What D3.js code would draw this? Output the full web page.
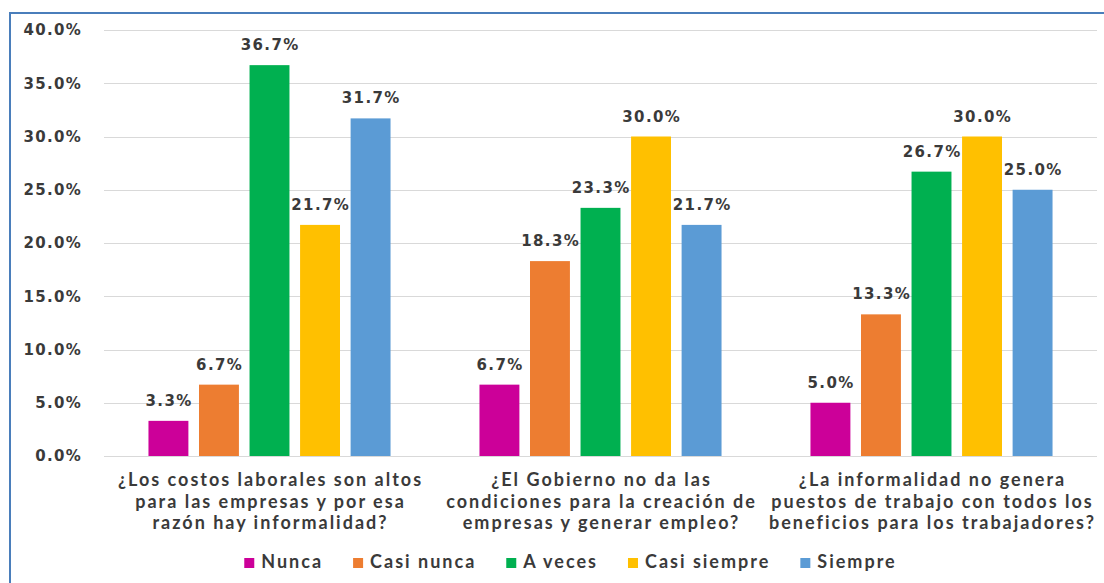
<!DOCTYPE html>
<html><head><meta charset="utf-8">
<script src="https://cdn.jsdelivr.net/npm/d3@7"></script>
<style>body{margin:0;background:#fff}</style>
</head><body><svg id="c" width="1104" height="583"></svg>
<script>
const categories = [
  "¿Los costos laborales son altos|para las empresas y por esa|razón hay informalidad?",
  "¿El Gobierno no da las|condiciones para la creación de|empresas y generar empleo?",
  "¿La informalidad no genera|puestos de trabajo con todos los|beneficios para los trabajadores?"
];
const series = ["Nunca", "Casi nunca", "A veces", "Casi siempre", "Siempre"];
const colors = ["#CC0099", "#ED7D31", "#00B050", "#FFC000", "#5B9BD5"];
const nunca = [3.3, 6.7, 5.0];
const casiNunca = [6.7, 18.3, 13.3];
const aVeces = [36.7, 23.3, 26.7];
const casiSiempre = [21.7, 30.0, 30.0];
const siempre = [31.7, 21.7, 25.0];
const yTicks = [0, 5, 10, 15, 20, 25, 30, 35, 40];
const valuesBySeries = [nunca, casiNunca, aVeces, casiSiempre, siempre];

(function() {
const svg = d3.select("#c");
const W = 1104, H = 583;
const pL = 104, pR = 1097, pT = 30, pB = 456;
const txt = "#3a3a3a";

// border
svg.append("line").attr("x1", 10).attr("x2", 10).attr("y1", 12).attr("y2", H).attr("stroke", "#4A7EBB").attr("stroke-width", 2);
svg.append("line").attr("x1", 9).attr("x2", W).attr("y1", 13).attr("y2", 13).attr("stroke", "#4A7EBB").attr("stroke-width", 1.8);

const y = d3.scaleLinear().domain([0, 40]).range([pB, pT]);
const x0 = d3.scaleBand().domain(d3.range(categories.length)).range([pL, pR]).paddingInner(0).paddingOuter(0);
const x1 = d3.scaleBand().domain(series).range([0, x0.bandwidth()]).paddingInner(0.21).paddingOuter(0.88);

// gridlines
svg.append("g").selectAll("line").data(yTicks).join("line")
  .attr("x1", pL).attr("x2", pR)
  .attr("y1", d => Math.round(y(d)) + 0.5).attr("y2", d => Math.round(y(d)) + 0.5)
  .attr("stroke", "#D9D9D9").attr("stroke-width", 1.2);

// y axis labels
const yAxis = d3.axisLeft(y).tickValues(yTicks).tickSize(0).tickPadding(0).tickFormat(d => d.toFixed(1) + "%");
const gy = svg.append("g").attr("transform", "translate(82,0)").call(yAxis);
gy.select(".domain").remove();
gy.selectAll("text").attr("font-family", "DejaVu Sans").attr("font-weight", "bold").attr("font-size", 15)
  .attr("letter-spacing", 1.3).attr("fill", txt);

// bars
const data = [];
series.forEach((s, si) => valuesBySeries[si].forEach((v, ci) => data.push({s, si, ci, v})));
svg.append("g").selectAll("rect").data(data).join("rect")
  .attr("x", d => x0(d.ci) + x1(d.s))
  .attr("width", x1.bandwidth())
  .attr("y", d => y(d.v))
  .attr("height", d => y(0) - y(d.v))
  .attr("fill", d => colors[d.si]);

// data labels
svg.append("g").selectAll("text").data(data).join("text")
  .attr("x", d => x0(d.ci) + x1(d.s) + x1.bandwidth() / 2 + 0.7)
  .attr("y", d => y(d.v) - 15)
  .attr("text-anchor", "middle")
  .attr("font-family", "DejaVu Sans").attr("font-weight", "bold").attr("font-size", 15)
  .attr("letter-spacing", 1.4)
  .attr("fill", txt)
  .text(d => d.v.toFixed(1) + "%");

// category labels
const cat = svg.append("g").selectAll("text").data(categories).join("text")
  .attr("text-anchor", "middle")
  .attr("font-family", "Lato").attr("font-weight", "bold").attr("font-size", 18)
  .attr("letter-spacing", 2)
  .attr("fill", txt);
cat.each(function(d, i) {
  const t = d3.select(this);
  d.split("|").forEach((line, li) => {
    t.append("tspan").attr("x", x0(i) + x0.bandwidth() / 2 + 1).attr("y", 486 + li * 21.5).text(line);
  });
});

// legend
const lg = svg.append("g");
const items = lg.selectAll("g").data(series).join("g");
items.append("rect").attr("width", 10).attr("height", 10).attr("y", -10).attr("fill", (d, i) => colors[i]);
items.append("text").attr("x", 17).attr("y", 0).attr("font-family", "Lato").attr("font-weight", "bold").attr("font-size", 18)
  .attr("letter-spacing", 2).attr("fill", txt).text(d => d);
const gap = 30;
let xx = 0;
items.each(function() {
  const g = d3.select(this);
  g.attr("transform", `translate(${xx},568)`);
  xx += 17 + g.select("text").node().getComputedTextLength() + gap;
});
const total = xx - gap;
lg.attr("transform", `translate(${570.5 - total / 2},0)`);
})();
</script></body></html>
